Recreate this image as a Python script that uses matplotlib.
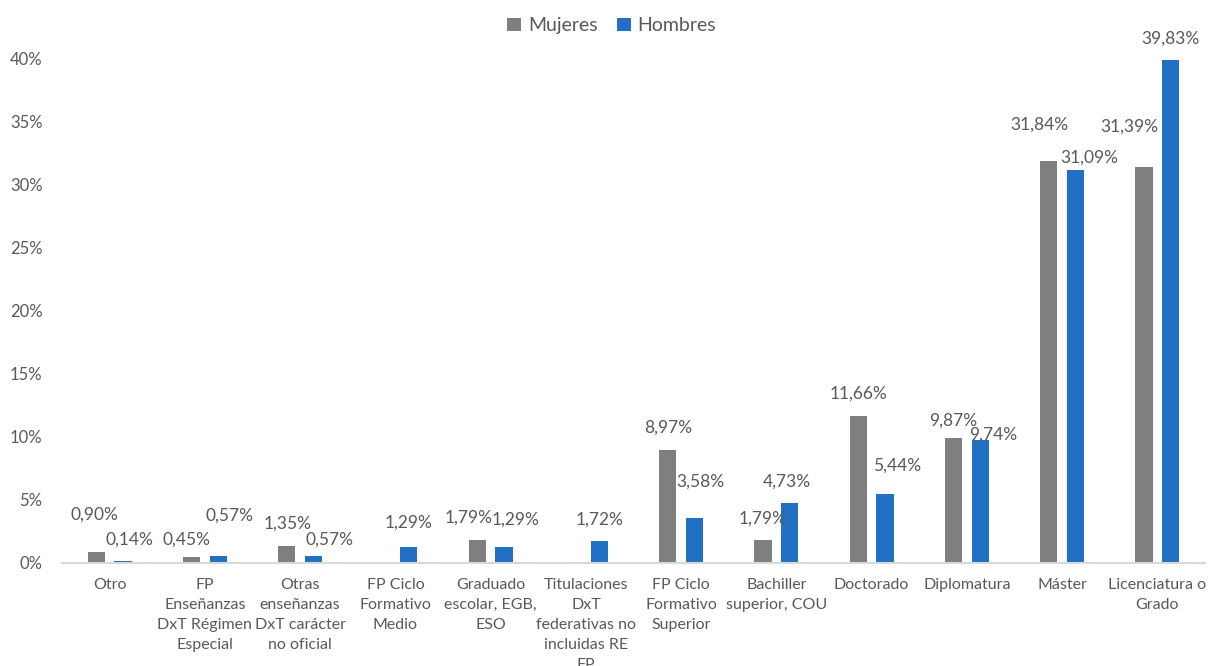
import numpy as np
import matplotlib
matplotlib.use("Agg")
import matplotlib.pyplot as plt

plt.rcParams['font.family'] = ['Lato', 'DejaVu Sans']

categories = ["Otro",
              "FP\nEnseñanzas\nDxT Régimen\nEspecial",
              "Otras\nenseñanzas\nDxT carácter\nno oficial",
              "FP Ciclo\nFormativo\nMedio",
              "Graduado\nescolar, EGB,\nESO",
              "Titulaciones\nDxT\nfederativas no\nincluidas RE\nFP",
              "FP Ciclo\nFormativo\nSuperior",
              "Bachiller\nsuperior, COU",
              "Doctorado",
              "Diplomatura",
              "Máster",
              "Licenciatura o\nGrado"]
mujeres = [0.90, 0.45, 1.35, None, 1.79, None, 8.97, 1.79, 11.66, 9.87, 31.84, 31.39]
hombres = [0.14, 0.57, 0.57, 1.29, 1.29, 1.72, 3.58, 4.73, 5.44, 9.74, 31.09, 39.83]

# label offsets in pixels (dx, dy) from bar top, as placed in the original
off_m = [(-2, 37), (-5, 18), (1, 22), (0, 0), (-9, 23), (0, 0), (0, 22), (0, 22), (0, 22), (0, 18), (-9, 36), (-15, 40)]
off_h = [(6, 22), (11, 40), (16, 16), (0, 24), (12, 27), (0, 22), (6, 36), (-3, 22), (12, 29), (13, 5), (14, 13), (0, 22)]

gray = "#7f7f7f"
blue = "#2170c4"
txt = "#595959"

fig = plt.figure(figsize=(12.09, 6.66), dpi=100)
ax = fig.add_axes([0.0513, 0.1547, 0.9454, 0.7582])

x = np.arange(len(categories))
w = 0.18
d = 0.14
m_vals = [v if v is not None else 0 for v in mujeres]
ax.bar(x - d, m_vals, w, color=gray, label="Mujeres")
ax.bar(x + d, hombres, w, color=blue, label="Hombres")

def fmt(v):
    return f"{v:.2f}".replace(".", ",") + "%"

for i in range(len(categories)):
    if mujeres[i] is not None:
        ax.annotate(fmt(mujeres[i]), (x[i] - d, mujeres[i]), xytext=off_m[i],
                    textcoords='offset pixels', ha='center', va='center',
                    fontsize=12.5, color=txt, annotation_clip=False)
    ax.annotate(fmt(hombres[i]), (x[i] + d, hombres[i]), xytext=off_h[i],
                textcoords='offset pixels', ha='center', va='center',
                fontsize=12.5, color=txt, annotation_clip=False)

ax.set_xlim(-0.5, len(categories) - 0.5)
ax.set_ylim(0, 40)
ax.set_yticks(np.arange(0, 41, 5))
ax.set_yticklabels([f"{t}%" for t in range(0, 41, 5)], fontsize=12, color=txt)
ax.set_xticks(x)
ax.set_xticklabels(categories, fontsize=11.5, color=txt, linespacing=1.55, va='top')
ax.tick_params(axis='both', length=0)
ax.tick_params(axis='x', pad=11)
ax.tick_params(axis='y', pad=14)
for s in ['top', 'right', 'left']:
    ax.spines[s].set_visible(False)
ax.spines['bottom'].set_color("#d9d9d9")
ax.spines['bottom'].set_linewidth(1.5)

fig.legend(loc='upper center', bbox_to_anchor=(0.506, 1.0), ncol=2, frameon=False,
           fontsize=14, labelcolor=txt, handlelength=0.7, handleheight=0.7,
           handletextpad=0.35, columnspacing=1.0)

fig.savefig("out.png", dpi=100)
